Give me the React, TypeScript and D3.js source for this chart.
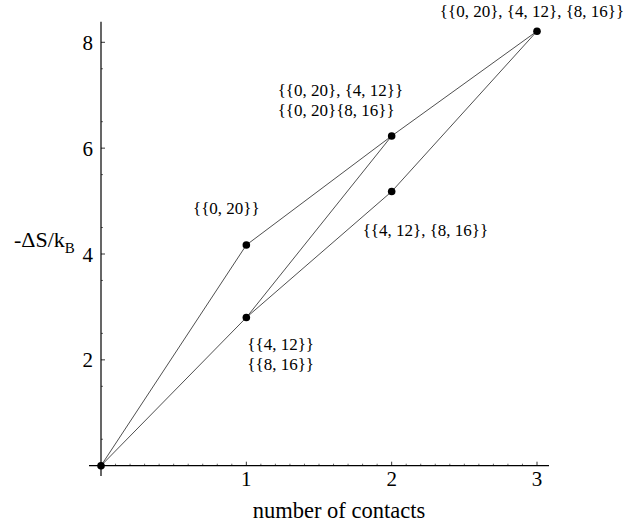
import React from 'react';
import * as d3 from 'd3';

// points: number of contacts vs -ΔS/kB
const pointX = [0, 1, 1, 2, 2, 3];
const pointY = [0, 4.17, 2.8, 6.23, 5.18, 8.21];

// paths between points (indices into the arrays above)
const paths = [
  [0, 1, 3, 5],
  [0, 2, 3],
  [2, 4, 5],
];

const xTicks = [1, 2, 3];
const yTicks = [2, 4, 6, 8];

// label text for each annotated point
const labelPoint = [5, 3, 1, 4, 2];
const labelLines = [
  ['{{0, 20}, {4, 12}, {8, 16}}'],
  ['{{0, 20}, {4, 12}}', '{{0, 20}{8, 16}}'],
  ['{{0, 20}}'],
  ['{{4, 12}, {8, 16}}'],
  ['{{4, 12}}', '{{8, 16}}'],
];

const W = 642;
const H = 525;

export default function App() {
  const x = d3.scaleLinear().domain([0, 3]).range([101, 537]);
  const y = d3.scaleLinear().domain([0, 8]).range([465.7, 42.3]);

  const line = d3.line<number>()
    .x(i => x(pointX[i]))
    .y(i => y(pointY[i]));

  const xMinor = d3.range(1, 31).map(v => v / 10).filter(v => v % 1 !== 0);
  const yMinor = d3.range(1, 17).map(v => v / 2).filter(v => v % 1 !== 0);

  // label layout relative to its point: anchor, dx, first baseline dy
  const layout: [string, number, number][] = [
    ['middle', -5, -14],
    ['start', -114, -40],
    ['middle', -20, -31],
    ['start', -29, 44],
    ['start', 1, 32],
  ];

  const font = '"Liberation Serif", "Times New Roman", serif';

  return (
    <svg width={W} height={H} style={{position: 'absolute', left: 0, top: 0, background: '#fff', fontFamily: font}}>
      {/* axes */}
      <line x1={89} x2={549} y1={y(0)} y2={y(0)} stroke="#000" strokeWidth={1.2}/>
      <line x1={x(0)} x2={x(0)} y1={476} y2={y(8.39)} stroke="#000" strokeWidth={1.2}/>
      {xMinor.map(v => (
        <line key={'xm' + v} x1={x(v)} x2={x(v)} y1={y(0)} y2={y(0) - 2} stroke="#000" strokeWidth={0.6}/>
      ))}
      {xTicks.map(v => (
        <g key={'xt' + v}>
          <line x1={x(v)} x2={x(v)} y1={y(0)} y2={y(0) - 4} stroke="#000" strokeWidth={0.8}/>
          <text x={x(v)} y={486} textAnchor="middle" fontSize={21}>{v}</text>
        </g>
      ))}
      {yMinor.map(v => (
        <line key={'ym' + v} x1={x(0)} x2={x(0) + 2} y1={y(v)} y2={y(v)} stroke="#000" strokeWidth={0.6}/>
      ))}
      {yTicks.map(v => (
        <g key={'yt' + v}>
          <line x1={x(0)} x2={x(0) + 4} y1={y(v)} y2={y(v)} stroke="#000" strokeWidth={0.8}/>
          <text x={x(0) - 8} y={y(v) + 7.5} textAnchor="end" fontSize={21}>{v}</text>
        </g>
      ))}
      <text x={339} y={518} textAnchor="middle" fontSize={22.5}>number of contacts</text>
      <text x={14} y={247} fontSize={22}>-ΔS/k<tspan fontSize={15} dy={6}>B</tspan></text>

      {/* connecting lines */}
      {paths.map((p, i) => (
        <path key={'p' + i} d={line(p) || ''} fill="none" stroke="#222" strokeWidth={0.8}/>
      ))}
      {pointX.map((v, i) => (
        <circle key={'c' + i} cx={x(v)} cy={y(pointY[i])} r={3.8} fill="#000"/>
      ))}

      {/* annotations */}
      {labelLines.map((lines, i) => {
        const pi = labelPoint[i];
        const [anchor, dx, dy] = layout[i];
        return (
          <text key={'l' + i} x={x(pointX[pi]) + dx} y={y(pointY[pi]) + dy}
                textAnchor={anchor} fontSize={17}>
            {lines.map((t, j) => (
              <tspan key={j} x={x(pointX[pi]) + dx} dy={j === 0 ? 0 : 20.5}>{t}</tspan>
            ))}
          </text>
        );
      })}
    </svg>
  );
}
